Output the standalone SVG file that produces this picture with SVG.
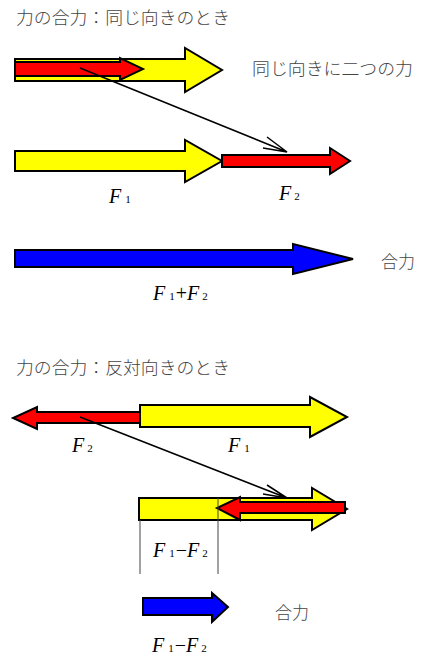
<svg xmlns="http://www.w3.org/2000/svg" width="426" height="655" viewBox="0 0 426 655">
<style>
.jp{font-family:"Noto Sans CJK JP","Noto Sans",sans-serif;font-size:17px;font-weight:300;fill:#444;}
.f{font-family:"Liberation Serif",serif;font-size:20px;font-style:italic;fill:#000;}
.s{font-size:11px;font-style:normal;}
.op{font-style:normal;}
.ar{stroke:#000;stroke-width:2;stroke-linejoin:miter;}
.y{fill:#ffff00;}
.r{fill:#ff0000;}
.b{fill:#0000ff;}
.ln{stroke:#000;stroke-width:1.5;fill:none;}
.tl{stroke:#444;stroke-width:1;fill:none;}
</style>
<rect width="426" height="655" fill="#fff"/>
<text class="jp" x="16" y="24" textLength="214" lengthAdjust="spacingAndGlyphs">力の合力：同じ向きのとき</text>
<text class="jp" x="252" y="75" textLength="161" lengthAdjust="spacingAndGlyphs">同じ向きに二つの力</text>
<g id="yellow1"><polygon class="ar y" points="15,59 185,59 185,48 222,70 185,92 185,81 15,81"/></g>
<g id="red1"><polygon class="ar r" points="15,62 120,62 120,58 143,69 120,80 120,76 15,76"/></g>
<g id="yellow2"><polygon class="ar y" points="15,151 185,151 185,140 222,161 185,182 185,171 15,171"/></g>
<g id="red2"><polygon class="ar r" points="222,155 330,155 330,148 350,161 330,174 330,167 222,167"/></g>
<g id="blue1"><polygon class="ar b" points="15,250 293,250 293,244 353,259 293,274 293,267 15,267"/></g>
<text class="f" x="109" y="203">F<tspan class="s" dx="4">1</tspan></text>
<text class="f" x="279" y="200">F<tspan class="s" dx="3">2</tspan></text>
<text class="f" x="153" y="300">F<tspan class="s" dx="4">1</tspan><tspan class="op" dx="1">+</tspan>F<tspan class="s" dx="3">2</tspan></text>
<text class="jp" x="381" y="268">合力</text>
<text class="jp" x="16" y="374" textLength="214" lengthAdjust="spacingAndGlyphs">力の合力：反対向きのとき</text>
<g id="red3"><polygon class="ar r" points="140,412 37,412 37,407 13,418 37,429 37,423 140,423"/></g>
<g id="yellow3"><polygon class="ar y" points="140,405 310,405 310,397 347,417 310,437 310,427 140,427"/></g>
<text class="f" x="72" y="452">F<tspan class="s" dx="3">2</tspan></text>
<text class="f" x="228" y="452">F<tspan class="s" dx="4">1</tspan></text>
<g id="yellow4"><polygon class="ar y" points="139,498 312,498 312,488 347,509 312,530 312,520 139,520"/></g>
<g id="red4"><polygon class="ar r" points="345,502 240,502 240,497 217,508 240,520 240,513 345,513"/></g>
<g id="guides"><line class="tl" x1="140" y1="520" x2="140" y2="574"/><line class="tl" x1="218" y1="498" x2="218" y2="574"/></g>
<text class="f" x="153" y="557">F<tspan class="s" dx="4">1</tspan><tspan class="op" dx="1">−</tspan>F<tspan class="s" dx="3">2</tspan></text>
<g id="blue2"><polygon class="ar b" points="143,598 212,598 212,593 228,607 212,622 212,615 143,615"/></g>
<text class="jp" x="275" y="619">合力</text>
<text class="f" x="152" y="652">F<tspan class="s" dx="4">1</tspan><tspan class="op" dx="1">−</tspan>F<tspan class="s" dx="3">2</tspan></text>
<g id="connectors">
<path class="ln" d="M80,68 L287,152 M267,137 L287,152 L263,148"/>
<path class="ln" d="M80,417 L287,498 M267,485 L287,498 L263,494"/>
</g>
</svg>
